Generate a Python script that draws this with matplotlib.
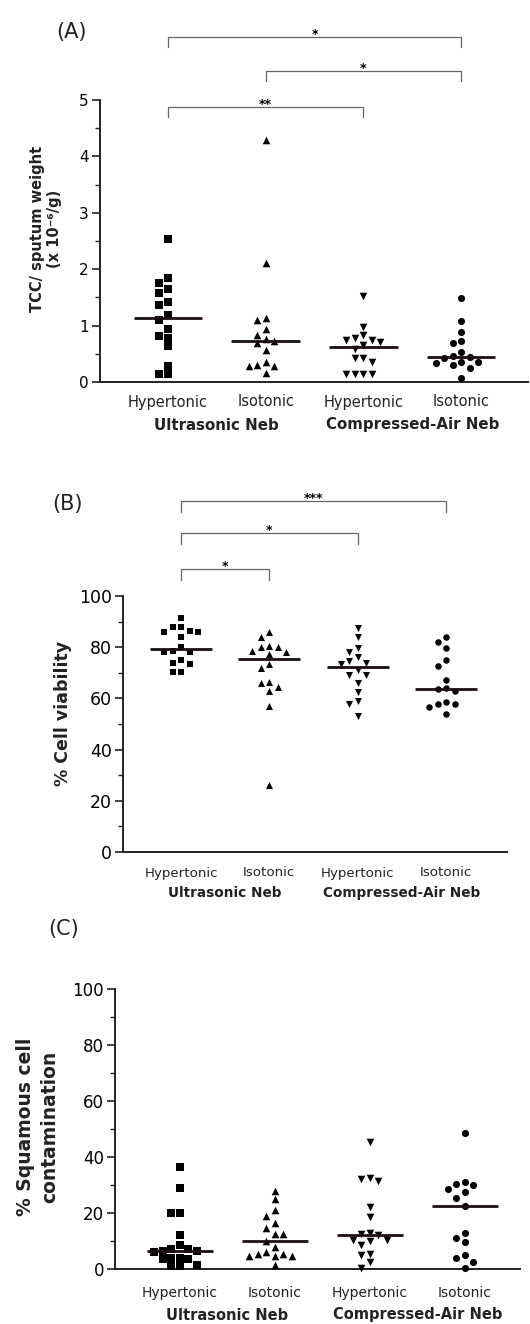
import numpy as np
import matplotlib
matplotlib.use("Agg")
import matplotlib.pyplot as plt

plt.rcParams['font.family'] = ['DejaVu Sans']

# categories
groups = ['Hypertonic', 'Isotonic', 'Hypertonic', 'Isotonic']
nebs = ['Ultrasonic Neb', 'Compressed-Air Neb']
markers = ['s', '^', 'v', 'o']

# (A) TCC / sputum weight (x 10^-6/g)
tcc_hyp_us = [2.53, 1.84, 1.75, 1.65, 1.57, 1.41, 1.37, 1.18, 1.10, 0.94, 0.81, 0.78, 0.64, 0.29, 0.14, 0.14]
tcc_iso_us = [4.29, 2.11, 1.13, 1.10, 0.94, 0.83, 0.76, 0.73, 0.69, 0.57, 0.36, 0.30, 0.29, 0.28, 0.16]
tcc_hyp_ca = [1.53, 0.98, 0.83, 0.78, 0.74, 0.74, 0.71, 0.66, 0.58, 0.42, 0.42, 0.35, 0.15, 0.14, 0.14, 0.14]
tcc_iso_ca = [1.49, 1.08, 0.89, 0.73, 0.69, 0.53, 0.46, 0.45, 0.42, 0.35, 0.35, 0.34, 0.30, 0.25, 0.07]

# (B) % cell viability
viab_hyp_us = [91.5, 88, 88, 86.5, 86, 86, 84, 80, 78.5, 78, 78, 75, 74, 73.5, 70.5, 70.5]
viab_iso_us = [86, 84, 80.5, 80, 80, 78.5, 78, 77.5, 73.5, 72, 66.5, 66, 64.5, 63, 57, 26]
viab_hyp_ca = [87.5, 84, 79.5, 78, 76, 74.5, 74, 73.5, 71, 69, 69, 66, 62.5, 59, 58, 53]
viab_iso_ca = [84, 82, 79.5, 75, 72.5, 67, 64, 63.5, 63, 58.5, 58, 58, 56.5, 54]

# (C) % squamous cell contamination
squam_hyp_us = [36.5, 29, 20, 20, 12, 8.5, 7, 7, 6.5, 6.5, 6, 4, 4, 3.5, 3.5, 1.5, 1, 1]
squam_iso_us = [28, 25, 21, 19, 16.5, 14.5, 12.5, 12.5, 10, 8, 6, 5.5, 5.5, 4.5, 4.5, 4.5, 1.5]
squam_hyp_ca = [45.5, 32.5, 32, 31.5, 22, 18.5, 13, 12.5, 12, 10.5, 10.5, 10, 8.5, 5.5, 5, 2.5, 0.5]
squam_iso_ca = [48.5, 31, 30.5, 30, 28.5, 27.5, 25.5, 22.5, 13, 11, 9.5, 5, 4, 2.5, 0.5]

# significance comparisons (group a, group b, label)
sig_a = [(1, 4, '*'), (2, 4, '*'), (1, 3, '**')]
sig_b = [(1, 4, '***'), (1, 3, '*'), (1, 2, '*')]

W, H = 530, 1324
fig = plt.figure(figsize=(W / 100, H / 100), dpi=100)


def make_ax(left, right, top, bottom):
    return fig.add_axes([left / W, 1 - bottom / H, (right - left) / W, (bottom - top) / H])


def swarm_x(ax, x0, vals, size_px=7.0, step_px=8.5):
    """ simple column-scatter offsets, computed in pixels """
    ys = [ax.transData.transform((x0, v))[1] for v in vals]
    cols = np.zeros(len(vals))
    placed = []
    for i in np.argsort(-np.array(vals), kind='stable'):
        for k in [0, -1, 1, -2, 2, -3, 3, -4, 4]:
            if all(pc != k or abs(ys[i] - py) >= size_px for py, pc in placed):
                cols[i] = k
                placed.append((ys[i], k))
                break
    px0 = ax.transData.transform((x0, 0))[0]
    inv = ax.transData.inverted()
    return [inv.transform((px0 + c * step_px, 0))[0] for c in cols]


def draw_panel(ax, data, ylim, major, minor, tick_fs, lab_fs, neb_fs, lab_dy, neb_dy, msize):
    ax.set_ylim(*ylim)
    for sp in ['top', 'right']:
        ax.spines[sp].set_visible(False)
    for sp in ['left', 'bottom']:
        ax.spines[sp].set_linewidth(1.4)
        ax.spines[sp].set_color('#222222')
    ax.set_yticks(major)
    ax.set_yticks(minor, minor=True)
    ax.tick_params(axis='y', which='major', length=6, width=1.2, labelsize=tick_fs, pad=2, color='#222222')
    ax.tick_params(axis='y', which='minor', length=3.5, width=1.0, color='#222222')
    ax.set_xticks([])
    for i, vals in enumerate(data):
        x0 = i + 1
        xs = swarm_x(ax, x0, vals, size_px=np.sqrt(msize) / 0.72 + 0.3)
        s = msize * (1.15 if markers[i] in '^v' else 1.0)
        ax.scatter(xs, vals, marker=markers[i], s=s, color='black', linewidths=0, zorder=3, clip_on=False)
        med = np.median(vals)
        ax.plot([x0 - 0.35, x0 + 0.35], [med, med], color='#1a1010', lw=2.0, zorder=4, solid_capstyle='butt')
        ax.annotate(groups[i], xy=(x0, 0), xycoords=('data', 'axes fraction'),
                    xytext=(0, -lab_dy * 0.72), textcoords='offset points',
                    ha='center', va='center', fontsize=lab_fs, color='#222222')
    for j, name in enumerate(nebs):
        ax.annotate(name, xy=(1.5 + 2 * j, 0), xycoords=('data', 'axes fraction'),
                    xytext=(0, -neb_dy * 0.72), textcoords='offset points',
                    ha='center', va='center', fontsize=neb_fs, fontweight='bold', color='#222222')


def draw_brackets(ax, sig, levels_px, tick_px=10, star_fs=9):
    y0, y1 = ax.get_ylim()
    ppu = ax.bbox.height / (y1 - y0)
    for (a, b, lab), lv in zip(sig, levels_px):
        y = y1 + lv / ppu
        t = tick_px / ppu
        ax.plot([a, a, b, b], [y - t, y, y, y - t], color='#666666', lw=0.9, clip_on=False)
        ax.annotate(lab, xy=((a + b) / 2, y), xytext=(0, -1), textcoords='offset points',
                    ha='center', va='baseline', fontsize=star_fs, fontweight='bold',
                    annotation_clip=False)


# Panel A
axA = make_ax(100, 528, 100, 382)
axA.set_xlim(0.304, 4.685)
draw_panel(axA, [tcc_hyp_us, tcc_iso_us, tcc_hyp_ca, tcc_iso_ca], (0, 5),
           np.arange(0, 6, 1), np.arange(0.5, 5, 1), 11, 10.5, 10.8, 20, 43, 26)
draw_brackets(axA, sig_a, [63, 29, -7])

# Panel B
axB = make_ax(123, 507, 596, 852)
axB.set_xlim(0.343, 4.69)
draw_panel(axB, [viab_hyp_us, viab_iso_us, viab_hyp_ca, viab_iso_ca], (0, 100),
           np.arange(0, 101, 20), np.arange(10, 100, 20), 12.5, 9.6, 9.8, 21, 41, 22)
draw_brackets(axB, sig_b, [95, 63, 27], tick_px=11)

# Panel C
axC = make_ax(115, 520, 989, 1269)
axC.set_xlim(0.316, 4.58)
draw_panel(axC, [squam_hyp_us, squam_iso_us, squam_hyp_ca, squam_iso_ca], (0, 100),
           np.arange(0, 101, 20), np.arange(10, 100, 20), 12, 10, 10.5, 24, 46, 26)

# y labels and panel letters
fig.text(46 / W, 1 - 229 / H, 'TCC/ sputum weight\n(x 10\u207b\u2076/g)', rotation=90,
         ha='center', va='center', multialignment='center', fontsize=10.5, fontweight='bold',
         linespacing=1.2, color='#222222')
fig.text(63 / W, 1 - 713 / H, '% Cell viability', rotation=90, ha='center', va='center',
         fontsize=12.5, fontweight='bold', color='#222222')
fig.text(38 / W, 1 - 1127 / H, '% Squamous cell\ncontamination', rotation=90, ha='center',
         va='center', multialignment='center', fontsize=13.5, fontweight='bold',
         linespacing=1.35, color='#222222')

for lab, (px, py) in zip(['(A)', '(B)', '(C)'], [(71, 32), (67, 504), (64, 929)]):
    fig.text(px / W, 1 - py / H, lab, ha='center', va='center', fontsize=15, color='#222222')

plt.savefig('out.png', dpi=100)
plt.close()
